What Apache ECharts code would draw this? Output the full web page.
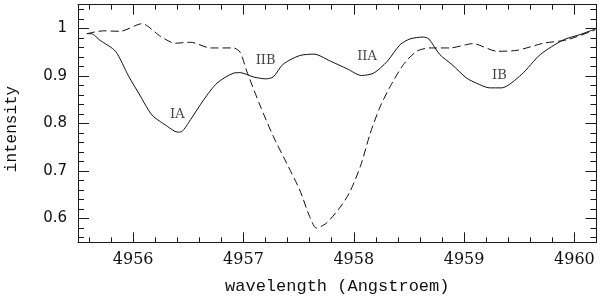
<!DOCTYPE html>
<html>
<head>
<meta charset="utf-8">
<script src="https://cdn.jsdelivr.net/npm/echarts@6/dist/echarts.min.js"></script>
<style>
html,body{margin:0;padding:0;background:#fff;}
#chart{width:600px;height:298px;}
</style>
</head>
<body>
<div id="chart"></div>
<script>
// solid profile (wavelength, intensity)
var solidWave = [4955.58,4955.62,4955.70,4955.84,4955.96,4956.06,4956.17,4956.31,4956.40,4956.44,4956.52,4956.64,4956.76,4956.91,4956.97,4957.09,4957.20,4957.27,4957.36,4957.51,4957.64,4957.79,4957.94,4958.07,4958.18,4958.30,4958.42,4958.51,4958.63,4958.68,4958.78,4958.89,4959.02,4959.11,4959.23,4959.34,4959.52,4959.69,4959.90,4960.05,4960.19];
var solidInt  = [0.989,0.989,0.975,0.952,0.899,0.860,0.818,0.794,0.782,0.783,0.808,0.850,0.885,0.906,0.907,0.898,0.894,0.898,0.925,0.943,0.946,0.931,0.915,0.901,0.906,0.930,0.966,0.978,0.982,0.978,0.945,0.924,0.896,0.885,0.875,0.875,0.903,0.945,0.976,0.987,0.999];
// dashed profile
var dashWave = [4955.58,4955.73,4955.88,4956.08,4956.25,4956.38,4956.52,4956.70,4956.91,4956.97,4957.03,4957.15,4957.27,4957.39,4957.51,4957.60,4957.66,4957.75,4957.87,4957.96,4958.06,4958.15,4958.24,4958.33,4958.45,4958.57,4958.69,4958.87,4959.08,4959.30,4959.48,4959.72,4959.93,4960.19];
var dashInt  = [0.989,0.995,0.994,1.010,0.983,0.969,0.971,0.959,0.959,0.950,0.910,0.838,0.773,0.717,0.660,0.604,0.580,0.590,0.622,0.654,0.710,0.780,0.836,0.878,0.924,0.952,0.959,0.959,0.968,0.952,0.954,0.969,0.976,0.997];
// component labels
var labelNames = ['IA','IIB','IIA','IB'];
var labelWave  = [4956.40,4957.20,4958.12,4959.32];
var labelInt   = [0.818,0.933,0.941,0.901];

function zip(a,b){ return a.map(function(v,i){ return [v,b[i]]; }); }

var AX = '#1a1a1a';
var xMin = 4955.5, xMax = 4960.2, yMin = 0.55, yMax = 1.05;

function xAxisCfg(pos, showLabel){
  return {
    type:'value', position:pos, min:xMin, max:xMax, splitNumber:5,
    axisLine:{show:true, onZero:false, lineStyle:{color:AX,width:1}},
    axisTick:{show:true, inside:true, length:10, lineStyle:{color:AX}},
    minorTick:{show:true, splitNumber:5, length:5, lineStyle:{color:AX}},
    splitLine:{show:false}, minorSplitLine:{show:false},
    axisLabel:{show:showLabel, margin:10, color:'#111', fontFamily:'DejaVu Serif', fontSize:16,
      showMinLabel:true, showMaxLabel:true,
      formatter:function(v){ return Math.abs(v-Math.round(v))<1e-6 ? String(Math.round(v)) : ''; }}
  };
}
function yAxisCfg(pos, showLabel){
  return {
    type:'value', position:pos, min:yMin, max:yMax, splitNumber:5,
    axisLine:{show:true, onZero:false, lineStyle:{color:AX,width:1}},
    axisTick:{show:true, inside:true, length:11, lineStyle:{color:AX}},
    minorTick:{show:true, splitNumber:5, length:6, lineStyle:{color:AX}},
    splitLine:{show:false}, minorSplitLine:{show:false},
    axisLabel:{show:showLabel, margin:11, color:'#111', fontFamily:'DejaVu Sans', fontSize:15,
      formatter:function(v){
        var k = Math.round(v*10);
        if (Math.abs(v*10-k) > 1e-6) return '';
        return String(+(k/10).toFixed(1));
      }}
  };
}

var xb = xAxisCfg('bottom', true);
xb.name = 'wavelength (Angstroem)';
xb.nameLocation = 'middle';
xb.nameGap = 36;
xb.nameTextStyle = {fontFamily:'Liberation Mono', fontSize:17, color:'#111'};
var yl = yAxisCfg('left', true);
yl.name = 'intensity';
yl.nameLocation = 'middle';
yl.nameGap = 58;
yl.nameTextStyle = {fontFamily:'Liberation Mono', fontSize:16, color:'#111', padding:[0,11,0,0]};

var chart = echarts.init(document.getElementById('chart'), null, {renderer:'canvas'});
chart.setOption({
  animation:false,
  backgroundColor:'#fff',
  grid:{left:78, right:3.5, top:4.7, bottom:55.7, containLabel:false, outerBoundsMode:'none'},
  xAxis:[xb, xAxisCfg('top', false)],
  yAxis:[yl, yAxisCfg('right', false)],
  series:[
    {type:'line', xAxisIndex:0, yAxisIndex:0, data:zip(solidWave,solidInt), showSymbol:false, smooth:0.25,
     lineStyle:{color:'#111', width:1}},
    {type:'line', xAxisIndex:0, yAxisIndex:0, data:zip(dashWave,dashInt), showSymbol:false, smooth:0.25,
     lineStyle:{color:'#111', width:1, type:[8,4]}},
    {type:'scatter', xAxisIndex:0, yAxisIndex:0, symbolSize:0,
     data:labelNames.map(function(n,i){ return [labelWave[i], labelInt[i], n]; }),
     label:{show:true, position:'inside', color:'#111', fontFamily:'DejaVu Serif', fontSize:13,
       formatter:function(p){ return p.value[2]; }}}
  ]
});
</script>
</body>
</html>
